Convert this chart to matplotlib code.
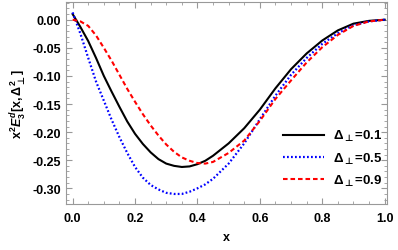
import numpy as np
import matplotlib.pyplot as plt
from matplotlib.ticker import MultipleLocator, FormatStrFormatter

plt.rcParams['font.family'] = 'Liberation Sans'
plt.rcParams['font.weight'] = 'bold'
plt.rcParams['mathtext.fontset'] = 'custom'
plt.rcParams['mathtext.rm'] = 'Liberation Sans:bold'
plt.rcParams['mathtext.it'] = 'Liberation Sans:italic:bold'
plt.rcParams['mathtext.bf'] = 'Liberation Sans:bold'
plt.rcParams['mathtext.sf'] = 'DejaVu Sans'

# values
x = [0.0, 0.025, 0.05, 0.075, 0.1, 0.125, 0.15, 0.175, 0.2, 0.225, 0.25, 0.275,
     0.3, 0.325, 0.35, 0.375, 0.4, 0.425, 0.45, 0.5, 0.55, 0.6, 0.65, 0.7,
     0.75, 0.8, 0.85, 0.9, 0.95, 1.0]
d01 = [0.010, -0.013, -0.038, -0.068, -0.100, -0.128, -0.155, -0.181, -0.203, -0.221,
       -0.236, -0.248, -0.256, -0.260, -0.262, -0.261, -0.257, -0.251, -0.242, -0.220,
       -0.193, -0.160, -0.122, -0.088, -0.060, -0.037, -0.019, -0.007, -0.002, 0.0]
d05 = [0.013, -0.025, -0.068, -0.110, -0.144, -0.178, -0.209, -0.237, -0.262, -0.281,
       -0.294, -0.302, -0.308, -0.310, -0.310, -0.306, -0.300, -0.293, -0.283, -0.256,
       -0.220, -0.177, -0.135, -0.098, -0.068, -0.043, -0.024, -0.010, -0.003, 0.0]
d09 = [0.0, -0.003, -0.011, -0.028, -0.050, -0.073, -0.098, -0.123, -0.146, -0.168,
       -0.188, -0.206, -0.222, -0.235, -0.245, -0.251, -0.255, -0.256, -0.253, -0.237,
       -0.215, -0.180, -0.141, -0.108, -0.076, -0.049, -0.027, -0.011, -0.003, 0.0]
labels = [r'$\Delta_{\mathsf{\bot}}$=0.1', r'$\Delta_{\mathsf{\bot}}$=0.5',
          r'$\Delta_{\mathsf{\bot}}$=0.9']

fig = plt.figure(figsize=(3.98, 2.51), dpi=100)
ax = fig.add_axes([0.166, 0.183, 0.806, 0.805])

ax.plot(x, d01, color='black', lw=1.5, label=labels[0])
ax.plot(x, d05, color='#0000ff', lw=1.6, dashes=(0.8, 1.0), label=labels[1])
ax.plot(x, d09, color='#ff0000', lw=1.5, dashes=(2.2, 1.4), label=labels[2])

ax.set_xlim(-0.021, 1.007)
ax.set_ylim(-0.328, 0.0315)
ax.xaxis.set_major_locator(MultipleLocator(0.2))
ax.xaxis.set_minor_locator(MultipleLocator(0.05))
ax.yaxis.set_major_locator(MultipleLocator(0.05))
ax.yaxis.set_minor_locator(MultipleLocator(0.01))
ax.xaxis.set_major_formatter(FormatStrFormatter('%.1f'))
ax.yaxis.set_major_formatter(FormatStrFormatter('%.2f'))
ax.tick_params(which='both', direction='in', top=True, right=True,
               color='#999999', labelsize=9)
ax.tick_params(which='major', length=4, width=0.8)
ax.tick_params(which='minor', length=2, width=0.6)
ax.tick_params(axis='x', pad=6)
for s in ax.spines.values():
    s.set_color('#999999')
    s.set_linewidth(0.8)

ax.set_xlabel('x', fontsize=9, fontweight='bold', labelpad=5)
ax.set_ylabel(r'$\mathrm{x}^2 E_3^d[\mathrm{x},\Delta_{\mathsf{\bot}}^2]$', fontsize=9, labelpad=3)

ax.legend(loc='lower right', bbox_to_anchor=(1.025, 0.02), frameon=False,
          fontsize=9.5, handlelength=3.1, labelspacing=0.55, handletextpad=0.7)

fig.savefig('out.png', dpi=100)
